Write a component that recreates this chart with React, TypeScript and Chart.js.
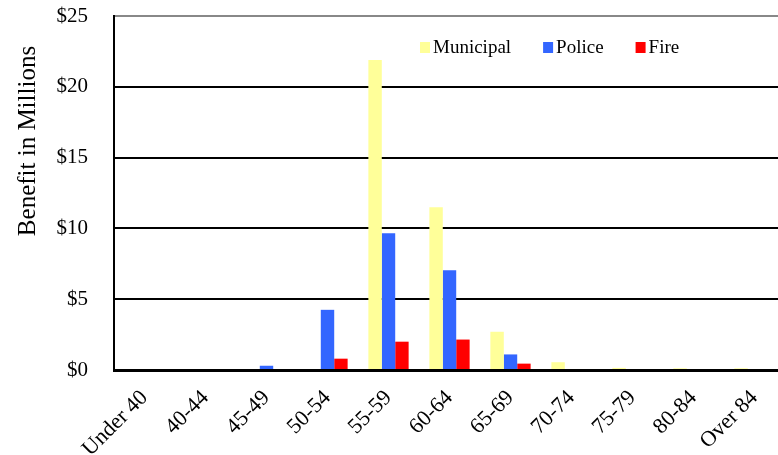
import React, { useEffect, useRef } from "react";
import { Chart, registerables } from "chart.js";

Chart.register(...registerables);

const categories = ["Under 40", "40-44", "45-49", "50-54", "55-59", "60-64", "65-69", "70-74", "75-79", "80-84", "Over 84"];
const municipal = [0, 0, 0, 0, 21.9, 11.5, 2.7, 0.55, 0.15, 0.12, 0.12];
const police = [0, 0, 0.3, 4.25, 9.65, 7.05, 1.1, 0, 0, 0, 0];
const fire = [0, 0, 0, 0.8, 2.0, 2.15, 0.45, 0, 0, 0, 0];
const yTicks = [0, 5, 10, 15, 20, 25];
const yTitle = "Benefit in Millions";

const SERIF = '"Liberation Serif", "Times New Roman", serif';

const overlayPlugin = {
  id: "overlay",
  afterDraw(chart: any) {
    const ctx = chart.ctx;
    ctx.save();
    ctx.font = `19px ${SERIF}`;
    ctx.textBaseline = "middle";
    ctx.textAlign = "left";
    let x = 420;
    const y = 48;
    chart.data.datasets.forEach((ds: any) => {
      ctx.fillStyle = ds.backgroundColor;
      ctx.fillRect(x, y - 6, 10, 11);
      x += 13;
      ctx.fillStyle = "#000";
      ctx.fillText(ds.label, x, y);
      x += ctx.measureText(ds.label).width + 32;
    });
    ctx.translate(28, 141);
    ctx.rotate(-Math.PI / 2);
    ctx.textAlign = "center";
    ctx.font = `25px ${SERIF}`;
    ctx.fillStyle = "#000";
    ctx.fillText(yTitle, 0, 0);
    ctx.restore();
  },
};

const zeroPad = (s: any) => {
  s.paddingTop = 0;
  s.paddingBottom = 0;
  s.paddingLeft = 0;
  s.paddingRight = 0;
};

export default function App() {
  const ref = useRef<HTMLCanvasElement | null>(null);
  useEffect(() => {
    document.body.style.margin = "0";
    if (!ref.current) return;
    const chart = new Chart(ref.current, {
      type: "bar",
      data: {
        labels: categories,
        datasets: [
          { label: "Municipal", data: municipal, backgroundColor: "#FFFF99" },
          { label: "Police", data: police, backgroundColor: "#3366FF" },
          { label: "Fire", data: fire, backgroundColor: "#FF0000" },
        ],
      },
      options: {
        responsive: false,
        animation: false,
        maintainAspectRatio: false,
        layout: { padding: { top: 16, right: 1, left: 0, bottom: 0 } },
        datasets: { bar: { categoryPercentage: 0.66, barPercentage: 1.0 } },
        plugins: { legend: { display: false }, tooltip: { enabled: false } },
        scales: {
          x: {
            grid: { display: false, drawTicks: false },
            border: { color: "#000", width: 3 },
            ticks: {
              autoSkip: false,
              maxRotation: 45,
              minRotation: 45,
              padding: 15,
              color: "#000",
              font: { family: SERIF, size: 22 },
            },
            afterFit: (s: any) => {
              s.height = 85;
              zeroPad(s);
            },
          },
          y: {
            min: 0,
            max: 25,
            afterBuildTicks: (s: any) => {
              s.ticks = yTicks.map((v) => ({ value: v }));
            },
            grid: {
              drawTicks: false,
              color: (c: any) => (c.tick && c.tick.value === 25 ? "#888" : "#000"),
              lineWidth: 2,
            },
            border: { color: "#000", width: 2 },
            ticks: {
              padding: 26,
              color: "#000",
              font: { family: SERIF, size: 21 },
              callback: (v: any) => "$" + v,
            },
            afterFit: (s: any) => {
              s.width = 114;
              zeroPad(s);
            },
          },
        },
      },
      plugins: [overlayPlugin],
    });
    return () => chart.destroy();
  }, []);
  return (
    <div style={{ width: 778, height: 455, overflow: "hidden", position: "relative" }}>
      <canvas ref={ref} width={786} height={455} style={{ display: "block" }} />
    </div>
  );
}
